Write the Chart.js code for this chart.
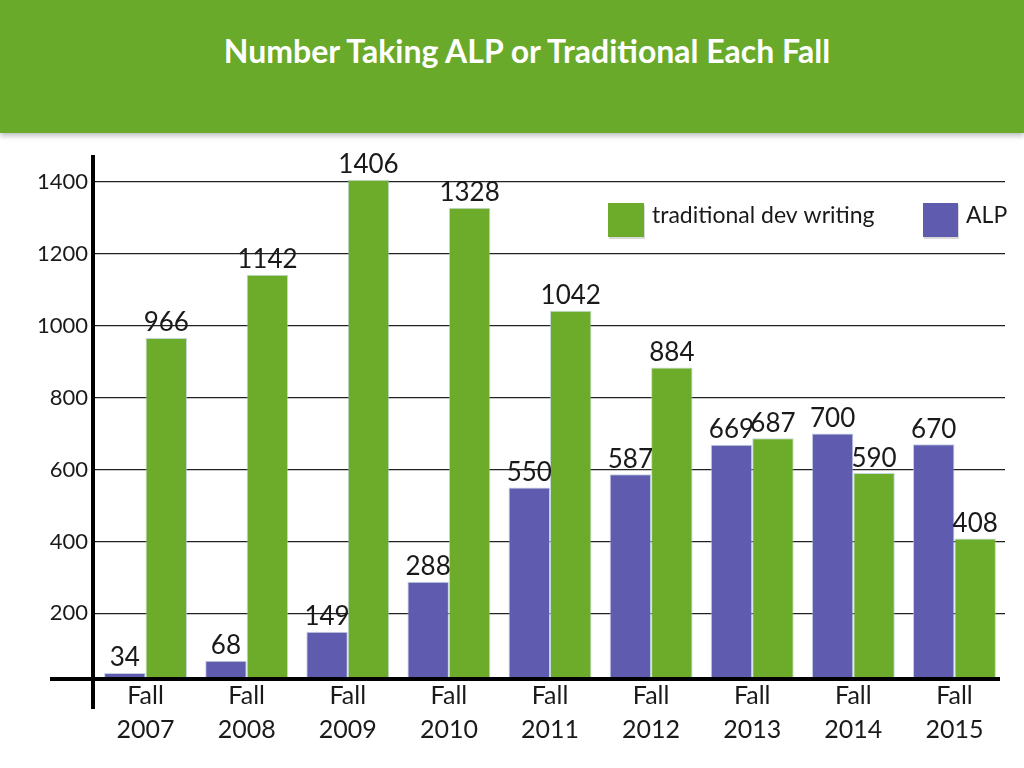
<!DOCTYPE html>
<html>
<head>
<meta charset="utf-8">
<script src="https://cdn.jsdelivr.net/npm/chart.js@4.4.0/dist/chart.umd.min.js"></script>
<style>
  html, body { margin: 0; padding: 0; background: #ffffff; width: 1024px; height: 768px; overflow: hidden; }
  #banner { position: absolute; left: 0; top: 0; width: 1024px; height: 133px; background: #6aaa2b;
            box-shadow: 0 3px 5px rgba(0,0,0,0.25); }
  #banner h1 { margin: 0; position: absolute; left: 0; width: 1054px; top: 31px; text-align: center;
               font-family: Lato, "Open Sans", sans-serif; font-weight: bold; font-size: 32px; color: #ffffff; }
  #wrap { position: absolute; left: 0; top: 133px; width: 1024px; height: 635px; }
</style>
</head>
<body>
<div id="banner"><h1>Number Taking ALP or Traditional Each Fall</h1></div>
<div id="wrap"><canvas id="c" width="1024" height="635"></canvas></div>
<script>
const years = ['2007', '2008', '2009', '2010', '2011', '2012', '2013', '2014', '2015'];
const alpValues = [34, 68, 149, 288, 550, 587, 669, 700, 670];
const traditionalValues = [966, 1142, 1406, 1328, 1042, 884, 687, 590, 408];
const yTickValues = [200, 400, 600, 800, 1000, 1200, 1400];
const seriesNames = ['ALP', 'traditional dev writing'];

const FONT = 'Lato, "Open Sans", sans-serif';
const PURPLE = '#5f5cb0';
const GREEN = '#6cac2a';

const valueLabels = {
  id: 'valueLabels',
  afterDatasetsDraw(chart) {
    const ctx = chart.ctx;
    ctx.save();
    ctx.font = '26px ' + FONT;
    ctx.fillStyle = '#1a1a1a';
    ctx.textAlign = 'center';
    ctx.textBaseline = 'bottom';
    chart.data.datasets.forEach((ds, i) => {
      const meta = chart.getDatasetMeta(i);
      meta.data.forEach((bar, j) => {
        ctx.fillText(String(ds.data[j]), bar.x, bar.y - 2);
      });
    });
    ctx.restore();
  }
};

const axisLines = {
  id: 'axisLines',
  afterDraw(chart) {
    const ctx = chart.ctx;
    const a = chart.chartArea;
    ctx.save();
    ctx.strokeStyle = '#000000';
    ctx.lineWidth = 4;
    ctx.beginPath();
    ctx.moveTo(a.left - 2, a.top);
    ctx.lineTo(a.left - 2, a.bottom + 31);
    ctx.stroke();
    ctx.beginPath();
    ctx.moveTo(50, a.bottom + 1);
    ctx.lineTo(1000, a.bottom + 1);
    ctx.stroke();
    ctx.restore();
  }
};

const customLegend = {
  id: 'customLegend',
  afterDraw(chart) {
    const ctx = chart.ctx;
    const items = [
      { ds: 1, x: 608, w: 36 },
      { ds: 0, x: 923, w: 35 }
    ];
    ctx.save();
    ctx.font = '23px ' + FONT;
    ctx.textAlign = 'left';
    ctx.textBaseline = 'middle';
    items.forEach(it => {
      const ds = chart.data.datasets[it.ds];
      ctx.fillStyle = 'rgba(0,0,0,0.15)';
      ctx.fillRect(it.x + 1, 72, it.w, 34);
      ctx.fillStyle = ds.backgroundColor;
      ctx.fillRect(it.x, 70, it.w, 34);
      ctx.fillStyle = '#1a1a1a';
      ctx.fillText(ds.label, it.x + it.w + 8, 83);
    });
    ctx.restore();
  }
};

new Chart(document.getElementById('c'), {
  type: 'bar',
  data: {
    labels: years.map(y => ['Fall', y]),
    datasets: [
      { label: seriesNames[0], data: alpValues, backgroundColor: PURPLE,
        borderColor: 'rgba(170,190,215,0.7)', borderWidth: 1, borderSkipped: false,
        categoryPercentage: 0.82, barPercentage: 1.0 },
      { label: seriesNames[1], data: traditionalValues, backgroundColor: GREEN,
        borderColor: 'rgba(170,200,200,0.7)', borderWidth: 1, borderSkipped: false,
        categoryPercentage: 0.82, barPercentage: 1.0 }
    ]
  },
  options: {
    responsive: false,
    animation: false,
    devicePixelRatio: 1,
    layout: { padding: { top: 22, right: 19, left: 0, bottom: 0 } },
    plugins: {
      legend: { display: false },
      title: { display: false },
      tooltip: { enabled: false }
    },
    scales: {
      x: {
        grid: { display: false, drawTicks: false },
        border: { display: false },
        ticks: {
          color: '#1a1a1a',
          font: { family: FONT, size: 25, lineHeight: 1.36 },
          padding: 1,
          maxRotation: 0, autoSkip: false
        },
        afterFit(scale) { scale.height = 90; }
      },
      y: {
        min: 20,
        max: 1475,
        afterBuildTicks(scale) { scale.ticks = yTickValues.map(v => ({ value: v })); },
        grid: { color: '#222222', lineWidth: 1.3, drawTicks: false },
        border: { display: false },
        ticks: {
          color: '#1a1a1a',
          font: { family: FONT, size: 22 },
          padding: 7,
          callback: (v) => String(v)
        },
        afterFit(scale) { scale.width = 95; }
      }
    }
  },
  plugins: [valueLabels, axisLines, customLegend]
});
</script>
</body>
</html>
